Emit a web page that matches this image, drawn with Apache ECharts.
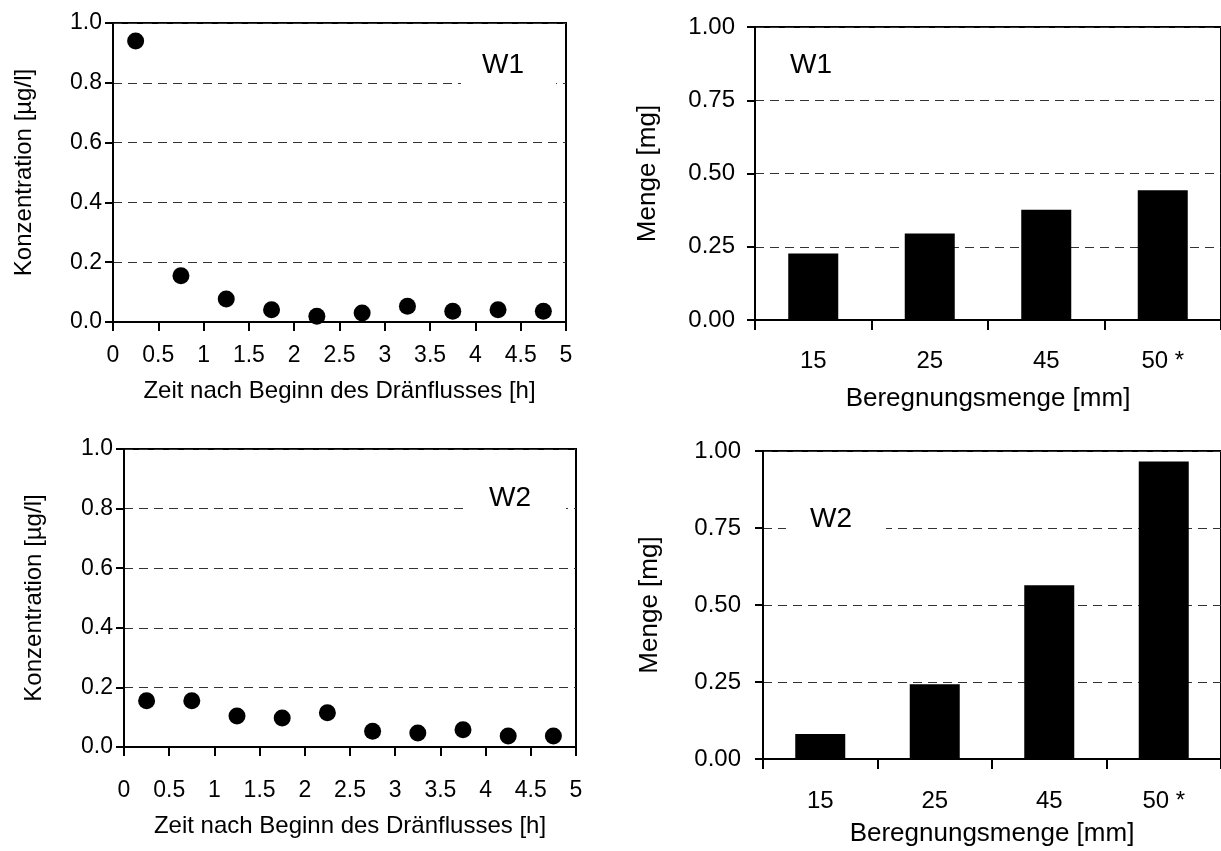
<!DOCTYPE html>
<html>
<head>
<meta charset="utf-8">
<script src="https://cdn.jsdelivr.net/npm/echarts@6/dist/echarts.min.js"></script>
<style>
html,body{margin:0;padding:0;background:#fff;}
#chart{width:1221px;height:851px;}
</style>
</head>
<body>
<div id="chart"></div>
<script>
// ---- data ----
var timeHours = [0.25, 0.75, 1.25, 1.75, 2.25, 2.75, 3.25, 3.75, 4.25, 4.75];
var concW1 = [0.94, 0.155, 0.077, 0.041, 0.019, 0.030, 0.053, 0.036, 0.041, 0.036];
var concW2 = [0.155, 0.155, 0.104, 0.097, 0.115, 0.053, 0.047, 0.058, 0.037, 0.037];
var rainCategories = ['15', '25', '45', '50 *'];
var amountW1 = [0.227, 0.295, 0.376, 0.443];
var amountW2 = [0.081, 0.243, 0.564, 0.966];
var panelLabels = ['W1', 'W1', 'W2', 'W2'];
var xNameConc = 'Zeit nach Beginn des Dränflusses [h]';
var yNameConc = 'Konzentration [µg/l]';
var xNameAmount = 'Beregnungsmenge [mm]';
var yNameAmount = 'Menge [mg]';

var FONT = '"Liberation Sans", Arial, sans-serif';
function pairs(xs, ys){ return xs.map(function(x,i){ return [x, ys[i]]; }); }

var splitLine = {show:true, lineStyle:{color:'#333', width:1, type:[9,6]}};
var axisLine = {show:true, onZero:false, lineStyle:{color:'#000', width:2}};

function valueX(gi, labelMargin, nameGap){
  return {type:'value', gridIndex:gi, min:0, max:5, interval:0.5,
    axisLine:axisLine, axisTick:{show:true, inside:false, length:9, lineStyle:{color:'#000', width:2}},
    axisLabel:{color:'#000', fontSize:23, fontFamily:FONT, margin:labelMargin,
      formatter:function(v){ return String(Math.round(v*10)/10); }},
    splitLine:{show:false},
    name:xNameConc, nameLocation:'middle', nameGap:nameGap,
    nameTextStyle:{color:'#000', fontSize:24, fontFamily:FONT}};
}
function catX(gi, labelMargin, nameGap){
  return {type:'category', gridIndex:gi, data:rainCategories, boundaryGap:true,
    axisLine:axisLine, axisTick:{show:true, inside:false, length:10, alignWithLabel:false, lineStyle:{color:'#000', width:2}},
    axisLabel:{color:'#000', fontSize:24, fontFamily:FONT, margin:labelMargin},
    splitLine:{show:false},
    name:xNameAmount, nameLocation:'middle', nameGap:nameGap,
    nameTextStyle:{color:'#000', fontSize:26, fontFamily:FONT}};
}
function valueY(gi, interval, digits, labelMargin, name, nameGap, fs, nfs){
  return {type:'value', gridIndex:gi, min:0, max:1, interval:interval,
    axisLine:axisLine, axisTick:{show:true, inside:false, length:8, lineStyle:{color:'#000', width:2}},
    axisLabel:{color:'#000', fontSize:fs, fontFamily:FONT, margin:labelMargin,
      formatter:function(v){ return v.toFixed(digits); }},
    splitLine:splitLine,
    name:name, nameLocation:'middle', nameGap:nameGap,
    nameTextStyle:{color:'#000', fontSize:nfs, fontFamily:FONT}};
}
function gridBox(l, t, w, h){
  return {left:l, top:t, width:w, height:h, show:true, borderColor:'#000', borderWidth:2, containLabel:false};
}
function tag(text, left, top, pad){
  return {text:text, left:left, top:top, padding:pad, backgroundColor:'#fff',
    textStyle:{color:'#000', fontSize:28, fontWeight:'normal', fontFamily:FONT}};
}

var option = {
  animation:false,
  backgroundColor:'#fff',
  title:[
    tag(panelLabels[0], 461, 48, [3, 32, 8, 21]),
    tag(panelLabels[1], 788, 48, [3, 4, 3, 2]),
    tag(panelLabels[2], 468, 481, [3, 35, 9, 21]),
    tag(panelLabels[3], 786, 502, [3, 34, 10, 24])
  ],
  grid:[
    gridBox(113, 23, 453, 299),
    gridBox(755, 27, 470, 293),
    gridBox(124, 449, 452, 298),
    gridBox(763, 451, 468, 308)
  ],
  xAxis:[
    valueX(0, 22, 57),
    catX(1, 29, 66),
    valueX(2, 32, 67),
    catX(3, 30, 62)
  ],
  yAxis:[
    valueY(0, 0.2, 1, 11, yNameConc, 77, 23, 24),
    valueY(1, 0.25, 2, 20, yNameAmount, 94, 24, 26),
    valueY(2, 0.2, 1, 11, yNameConc, 78, 23, 24),
    valueY(3, 0.25, 2, 22, yNameAmount, 100, 24, 26)
  ],
  series:[
    {type:'scatter', xAxisIndex:0, yAxisIndex:0, data:pairs(timeHours, concW1), symbol:'circle', symbolSize:17, itemStyle:{color:'#000', opacity:1}},
    {type:'bar', xAxisIndex:1, yAxisIndex:1, data:amountW1, barWidth:50, itemStyle:{color:'#000'}},
    {type:'scatter', xAxisIndex:2, yAxisIndex:2, data:pairs(timeHours, concW2), symbol:'circle', symbolSize:17, itemStyle:{color:'#000', opacity:1}},
    {type:'bar', xAxisIndex:3, yAxisIndex:3, data:amountW2, barWidth:50, itemStyle:{color:'#000'}}
  ]
};
var chart = echarts.init(document.getElementById('chart'), null, {renderer:'canvas'});
chart.setOption(option);
</script>
</body>
</html>
